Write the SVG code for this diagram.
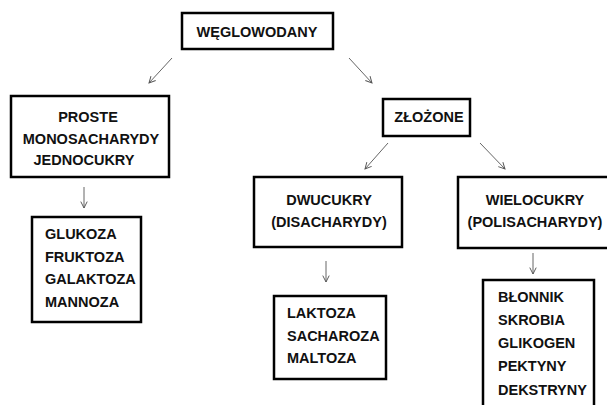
<svg xmlns="http://www.w3.org/2000/svg" width="607" height="405" viewBox="0 0 607 405">
<defs>
<marker id="ah" viewBox="0 0 10 10" refX="9" refY="5" markerWidth="8" markerHeight="8" markerUnits="userSpaceOnUse" orient="auto">
<path d="M1,1 L9,5 L1,9" fill="none" stroke="#555" stroke-width="1.2"/>
</marker>
</defs>
<style>
.box{fill:#fff;stroke:#000;stroke-width:2.5}
.t{font-family:"Liberation Sans",Arial,sans-serif;font-weight:bold;font-size:14.5px;fill:#111}
.c{text-anchor:middle}
.ln{stroke:#666;stroke-width:1;fill:none;marker-end:url(#ah)}
</style>
<rect width="607" height="405" fill="#fff"/>
<g id="connectors">
<line class="ln" x1="172" y1="58" x2="149" y2="83"/>
<line class="ln" x1="349" y1="58" x2="372" y2="83"/>
<line class="ln" x1="84" y1="187" x2="84" y2="208"/>
<line class="ln" x1="388" y1="143" x2="365" y2="169"/>
<line class="ln" x1="480" y1="143" x2="505" y2="169"/>
<line class="ln" x1="326" y1="261" x2="326" y2="282"/>
<line class="ln" x1="533" y1="253" x2="533" y2="274"/>
</g>
<g id="weglowodany">
<rect class="box" x="182" y="13" width="151" height="36"/>
<text class="t c" x="257" y="37">WĘGLOWODANY</text>
</g>
<g id="proste">
<rect class="box" x="11" y="96" width="158" height="81"/>
<text class="t c" x="88" y="122">PROSTE</text>
<text class="t c" x="91" y="144">MONOSACHARYDY</text>
<text class="t c" x="84" y="165">JEDNOCUKRY</text>
</g>
<g id="mono">
<rect class="box" x="32" y="217" width="109" height="105"/>
<text class="t" x="45" y="239">GLUKOZA</text>
<text class="t" x="45" y="262">FRUKTOZA</text>
<text class="t" x="45" y="284">GALAKTOZA</text>
<text class="t" x="45" y="307">MANNOZA</text>
</g>
<g id="zlozone">
<rect class="box" x="383" y="99" width="87" height="37"/>
<text class="t c" x="429" y="122">ZŁOŻONE</text>
</g>
<g id="dwucukry">
<rect class="box" x="254" y="177" width="148" height="70"/>
<text class="t c" x="329" y="205">DWUCUKRY</text>
<text class="t c" x="329" y="227">(DISACHARYDY)</text>
</g>
<g id="wielocukry">
<rect class="box" x="458" y="177" width="152" height="71"/>
<text class="t c" x="535" y="205">WIELOCUKRY</text>
<text class="t c" x="535" y="227">(POLISACHARYDY)</text>
</g>
<g id="disach">
<rect class="box" x="274" y="296" width="112" height="83"/>
<text class="t" x="287" y="318">LAKTOZA</text>
<text class="t" x="287" y="341">SACHAROZA</text>
<text class="t" x="287" y="363">MALTOZA</text>
</g>
<g id="polisach">
<rect class="box" x="483" y="280" width="111" height="130"/>
<text class="t" x="498" y="302">BŁONNIK</text>
<text class="t" x="498" y="325">SKROBIA</text>
<text class="t" x="498" y="348">GLIKOGEN</text>
<text class="t" x="498" y="371">PEKTYNY</text>
<text class="t" x="498" y="395">DEKSTRYNY</text>
</g>
</svg>
